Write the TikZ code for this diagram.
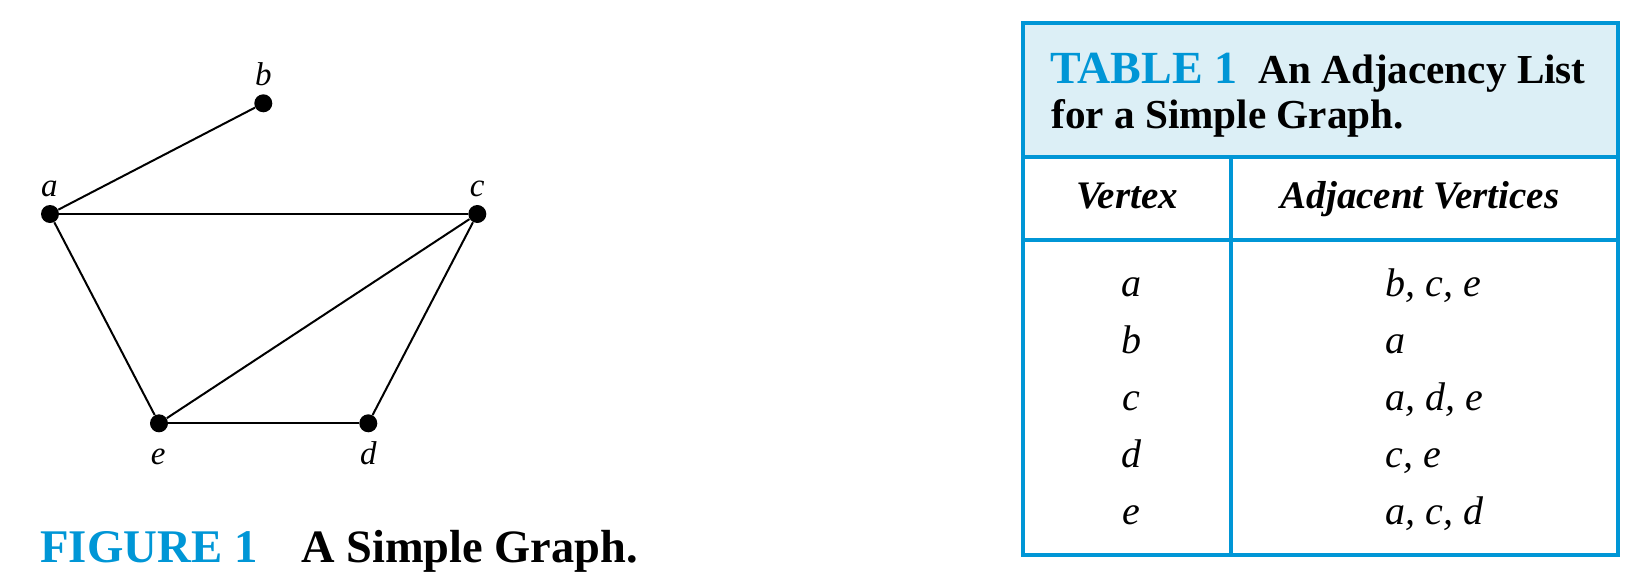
\documentclass[tikz,border=0pt]{standalone}
\usepackage{fontspec}
\setmainfont{Liberation Serif}
\definecolor{tblue}{HTML}{0096D6}
\definecolor{hfill}{HTML}{DCEFF6}
\tikzset{
  vtx/.style={circle,fill=black,draw=none,inner sep=0pt,minimum size=9pt},
  edge/.style={line width=1pt,black},
  vlabel/.style={inner sep=0pt,anchor=base,font=\fontsize{16.5}{19}\selectfont\itshape},
  cell/.style={inner sep=0pt,anchor=base,font=\fontsize{20}{24}\selectfont\itshape},
  celll/.style={cell,anchor=base west},
  colhead/.style={inner sep=0pt,anchor=base,font=\fontsize{19.5}{23}\selectfont\bfseries\itshape},
  rule/.style={line width=2.1pt,tblue},
  txt/.style={inner sep=0pt,anchor=base west}
}
\begin{document}
\begin{tikzpicture}[x=0.5pt,y=-0.5pt]
\useasboundingbox (0,0) rectangle (1644,584);
% graph
\node[vtx] (a) at (50,214) {};
\node[vtx] (b) at (263.3,103.3) {};
\node[vtx] (c) at (477.3,214) {};
\node[vtx] (d) at (368.3,423.3) {};
\node[vtx] (e) at (159,423.3) {};
\draw[edge] (a) -- (b);
\draw[edge] (a) -- (c);
\draw[edge] (a) -- (e);
\draw[edge] (c) -- (e);
\draw[edge] (c) -- (d);
\draw[edge] (e) -- (d);
\node[vlabel] (la) at (49.3,196) {a};
\node[vlabel] (lb) at (263.3,85) {b};
\node[vlabel] (lc) at (477.3,196) {c};
\node[vlabel] (ld) at (368.3,464) {d};
\node[vlabel] (le) at (158.3,464) {e};
% caption
\node[txt,font=\fontsize{23.4}{27}\selectfont\bfseries,text=tblue] (fig) at (40,562) {FIGURE 1};
\node[txt,font=\fontsize{23.2}{27}\selectfont\bfseries] (figt) at (301,562) {A Simple Graph.};
% table
\fill[hfill] (1022.8,23) rectangle (1618,156.7);
\draw[rule] (1022.8,156.7) -- (1618,156.7);
\draw[rule] (1022.8,239.7) -- (1618,239.7);
\draw[rule] (1231,156.7) -- (1231,555.3);
\draw[rule] (1022.8,23) rectangle (1618,555.3);
\node[txt,font=\fontsize{23}{27}\selectfont\bfseries,text=tblue] (tno) at (1050,83.3) {TABLE 1};
\node[txt,font=\fontsize{20.6}{24}\selectfont\bfseries] (tt1) at (1258,83.3) {An Adjacency List};
\node[txt,font=\fontsize{20.6}{24}\selectfont\bfseries] (tt2) at (1051,128.3) {for a Simple Graph.};
\node[colhead] (h1) at (1127,208.3) {Vertex};
\node[colhead] (h2) at (1420,208.3) {Adjacent Vertices};
\node[cell] (r1a) at (1131,296) {a};
\node[cell] (r2a) at (1131,353) {b};
\node[cell] (r3a) at (1131,410) {c};
\node[cell] (r4a) at (1131,467) {d};
\node[cell] (r5a) at (1131,524) {e};
\node[celll] (r1b) at (1385,296) {b, c, e};
\node[celll] (r2b) at (1385,353) {a};
\node[celll] (r3b) at (1385,410) {a, d, e};
\node[celll] (r4b) at (1385,467) {c, e};
\node[celll] (r5b) at (1385,524) {a, c, d};
\end{tikzpicture}
\end{document}
